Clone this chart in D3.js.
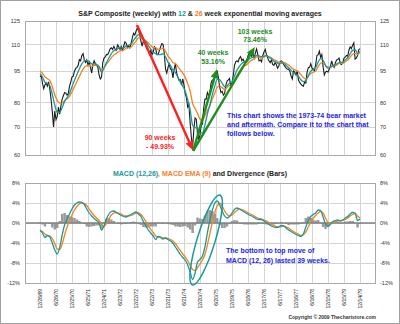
<!DOCTYPE html>
<html>
<head>
<meta charset="utf-8">
<script src="https://cdn.jsdelivr.net/npm/d3@7"></script>
<style>
  html, body { margin: 0; padding: 0; background: #fff; }
  svg { display: block; font-family: "Liberation Sans", Arial, sans-serif; }
</style>
</head>
<body>
<div id="chart"></div>
<script>
// tick labels every 26 weeks, 12/26/69 .. 12/14/79
const dateLabels = ["12/26/69","6/26/70","12/25/70","6/25/71","12/24/71","6/23/72","12/22/72",
  "6/22/73","12/21/73","6/21/74","12/20/74","6/20/75","12/19/75","6/18/76","12/17/76",
  "6/17/77","12/16/77","6/16/78","12/15/78","6/15/79","12/14/79"];

// S&P Composite, one value every 2 weeks from 12/26/69
const price = [
  92.1,92.7,89.0,86.3,88.0,89.0,87.5,89.6,86.0,81.4,76.0,70.0,76.3,72.8,74.0,78.0,75.0,78.5,81.5,83.0,84.5,84.2,83.3,84.0,87.5,89.5,
  92.0,92.4,94.9,96.4,97.0,98.0,101.2,100.5,103.5,104.5,101.0,99.6,101.0,98.0,99.8,97.0,94.0,98.5,100.5,99.0,98.0,97.0,93.0,91.0,92.0,99.5,
  102.0,102.7,104.0,104.0,105.5,107.3,107.9,107.0,108.8,107.2,106.4,109.7,108.5,107.0,108.7,106.0,109.0,111.5,110.7,108.0,109.0,107.9,110.5,114.0,116.9,115.8,
  118.2,119.9,118.9,116.0,112.0,109.0,112.0,111.0,109.0,107.0,106.5,103.5,106.5,104.0,105.5,108.5,107.5,104.0,104.0,106.5,108.5,110.5,110.0,104.5,96.0,94.0,
  97.0,98.9,96.0,95.5,91.5,96.0,99.0,94.0,92.0,90.3,90.7,88.0,91.0,88.0,84.0,82.0,78.0,79.0,71.5,66.0,62.5,69.0,73.5,73.0,67.0,65.5,
  67.0,70.7,71.0,77.5,81.5,81.5,84.5,83.0,84.5,89.0,90.5,90.5,92.5,94.8,95.0,91.5,87.0,84.5,85.0,83.3,84.0,88.0,90.0,90.5,91.2,87.5,
  89.0,92.6,98.0,100.0,100.5,100.0,102.0,102.8,100.5,101.5,100.0,100.2,100.0,103.5,104.5,104.5,103.0,104.2,102.0,105.0,107.3,104.0,100.5,101.0,100.0,103.5,
  105.5,107.0,104.0,102.0,100.5,99.5,101.0,98.5,98.0,99.5,98.5,96.5,97.5,100.0,100.5,100.0,98.5,97.5,96.5,96.0,96.0,95.0,92.5,91.0,95.0,94.5,
  93.0,95.1,90.5,89.3,88.5,87.8,87.5,89.5,89.0,94.5,96.8,97.0,99.0,96.5,96.0,95.0,98.5,103.5,104.0,106.0,102.5,104.0,97.5,93.0,94.5,95.0,
  94.5,96.0,97.5,100.5,98.0,97.0,99.5,101.0,101.3,102.0,99.0,98.5,99.5,102.0,102.5,103.5,103.1,106.5,108.5,107.5,109.5,111.0,101.5,102.0,103.5,106.8,
  107.5
];

// moving averages, one value every 4 weeks
const ema12 = [
  93.7,92.0,89.4,88.8,87.7,83.7,78.9,75.8,75.8,77.8,80.5,82.2,84.2,87.2,90.3,93.3,96.2,98.8,100.6,100.6,
  100.1,98.8,98.9,98.6,97.3,94.4,96.5,99.5,102.1,104.6,106.2,106.8,107.7,107.9,108.0,109.1,109.6,110.2,112.4,114.5,
  116.0,115.5,113.4,111.6,109.2,107.1,105.3,104.5,104.1,104.0,104.5,102.7,99.7,98.0,95.5,94.2,92.0,89.5,87.5,85.0,
  81.3,76.8,70.6,69.7,69.6,67.7,67.7,70.7,75.1,78.9,83.5,87.5,90.8,90.7,88.9,87.2,87.7,89.0,89.7,92.3,
  95.4,97.5,99.1,99.9,100.2,101.5,102.3,102.6,103.5,103.3,102.8,103.1,103.5,102.5,101.6,100.3,99.7,98.8,99.3,99.1,
  98.0,96.8,95.4,94.0,93.2,92.3,90.6,89.7,90.3,92.7,95.0,96.0,96.9,99.9,101.7,100.8,97.9,96.5,96.9,97.9,
  98.3,99.3,99.6,99.7,101.0,102.2,104.5,106.4,106.8,104.7,105.8
];
const ema26 = [
  95.0,93.9,92.1,91.1,90.2,87.2,83.5,80.8,79.7,79.7,80.8,81.6,82.7,84.8,87.2,89.7,92.3,94.9,97.0,97.9,
  98.1,97.4,98.0,98.1,97.3,95.8,97.1,98.7,100.3,102.3,103.8,104.6,105.8,106.3,106.6,107.8,108.0,108.3,110.2,112.0,
  114.0,114.0,113.1,112.2,110.8,109.3,108.1,108.0,107.0,107.1,107.9,105.9,103.1,101.6,99.5,99.0,97.4,95.6,94.0,91.8,
  88.7,85.1,79.6,77.4,75.4,73.0,72.4,74.3,76.6,78.5,81.5,84.1,87.0,87.6,86.8,86.0,86.8,87.9,88.0,89.9,
  92.7,94.9,96.7,97.7,98.4,99.9,100.9,101.5,102.7,102.6,102.0,102.7,103.4,102.9,102.2,101.1,100.6,99.6,99.8,99.7,
  99.0,98.2,97.0,95.9,95.4,94.7,93.2,91.7,91.0,92.3,93.8,94.4,95.0,97.4,99.2,99.6,98.1,97.2,97.1,97.7,
  97.8,98.7,99.2,99.1,100.0,100.9,102.6,104.2,104.7,104.2,105.0
];

// MACD (12,26), its 9-week EMA and the divergence, % , every 4 weeks
const macd = [
  -1.4,-2.0,-2.9,-2.5,-2.8,-4.0,-5.4,-6.2,-4.9,-2.4,-0.4,0.8,1.8,2.8,3.6,4.0,4.2,4.1,3.7,2.8,
  2.0,1.4,0.9,0.5,0.0,-1.4,-0.6,0.8,1.8,2.3,2.4,2.1,1.8,1.5,1.3,1.2,1.5,1.7,2.0,2.2,
  1.8,1.3,0.3,-0.6,-1.4,-2.0,-2.6,-3.3,-2.7,-2.9,-3.2,-3.0,-3.3,-3.6,-4.0,-4.8,-5.5,-6.3,-6.9,-7.4,
  -8.4,-9.8,-11.3,-10.0,-7.8,-7.3,-6.6,-4.8,-2.0,0.5,2.5,4.0,4.4,3.6,2.4,1.4,1.0,1.3,2.0,2.7,
  3.0,2.8,2.5,2.2,1.9,1.6,1.4,1.1,0.8,0.7,0.7,0.4,0.1,-0.3,-0.6,-0.8,-0.9,-0.8,-0.5,-0.6,
  -1.0,-1.4,-1.7,-2.0,-2.3,-2.5,-2.7,-2.2,-0.8,0.5,1.3,1.7,2.0,2.6,2.5,1.2,-0.2,-0.7,-0.2,0.3,
  0.5,0.6,0.4,0.6,1.0,1.3,1.8,2.1,2.0,0.5,0.8
];
const macdSignal = [
  -1.6,-1.7,-2.2,-2.5,-2.6,-3.1,-4.1,-5.2,-5.3,-4.2,-2.4,-0.8,0.5,1.6,2.6,3.3,3.8,4.0,3.9,3.5,
  2.8,2.1,1.5,1.0,0.5,-0.3,-0.7,-0.1,0.8,1.6,2.0,2.1,2.0,1.8,1.5,1.4,1.4,1.5,1.7,2.0,
  2.0,1.7,1.1,0.3,-0.5,-1.3,-1.9,-2.6,-2.8,-2.8,-3.0,-3.0,-3.1,-3.3,-3.6,-4.1,-4.8,-5.5,-6.2,-6.8,
  -7.5,-8.5,-9.3,-9.5,-8.9,-8.2,-7.4,-6.3,-4.4,-2.1,0.1,2.1,3.4,4.0,3.4,2.4,1.7,1.4,1.6,2.1,
  2.5,2.8,2.7,2.5,2.2,1.9,1.7,1.4,1.1,0.9,0.8,0.6,0.4,0.1,-0.3,-0.5,-0.7,-0.8,-0.7,-0.6,
  -0.8,-1.0,-1.4,-1.7,-2.0,-2.2,-2.5,-2.4,-1.8,-0.8,0.3,1.0,1.5,2.0,2.3,2.0,1.0,0.1,-0.2,0.0,
  0.2,0.4,0.5,0.5,0.7,1.0,1.4,1.7,1.9,1.4,1.0
];
const divergence = [
  0.2,-0.3,-0.7,0.0,-0.2,-0.9,-1.3,-1.0,0.4,1.8,2.0,1.6,1.3,1.2,1.0,0.7,0.4,0.1,-0.2,-0.7,
  -0.8,-0.7,-0.6,-0.5,-0.5,-1.1,0.1,0.9,1.0,0.7,0.4,0.0,-0.2,-0.3,-0.2,-0.2,0.1,0.2,0.3,0.2,
  -0.2,-0.4,-0.8,-0.9,-0.9,-0.7,-0.7,-0.7,0.1,-0.1,-0.2,0.0,-0.2,-0.3,-0.4,-0.7,-0.7,-0.8,-0.7,-0.6,
  -0.9,-1.3,-2.0,-0.5,1.1,0.9,0.8,1.5,2.4,2.6,2.4,1.9,1.0,-0.4,-1.0,-1.0,-0.7,-0.1,0.4,0.6,
  0.5,0.0,-0.2,-0.3,-0.3,-0.3,-0.3,-0.3,-0.3,-0.2,-0.1,-0.2,-0.3,-0.4,-0.3,-0.3,-0.2,0.0,0.2,0.0,
  -0.2,-0.4,-0.3,-0.3,-0.3,-0.3,-0.2,0.2,1.0,1.3,1.0,0.7,0.5,0.6,0.2,-0.8,-1.2,-0.8,0.0,0.3,
  0.3,0.2,-0.1,0.1,0.3,0.3,0.4,0.4,0.1,-0.9,-0.2
];

const priceTicks = [60, 70, 80, 95, 110, 125];
const macdTicks = [-12, -8, -4, 0, 4, 8];

// annotations: [week, value] pairs
const moveArrows = [
  { from: [157.6, 122.3], to: [248.5, 61.6], color: "#ff2020" },
  { from: [249, 61.4], to: [287.6, 96.0], color: "#1e8c1e" },
  { from: [249, 61.4], to: [349, 108.4], color: "#1e8c1e" }
];

const teal = "#17999a";
const orange = "#f7801f";

const W = 400, H = 324;
const plotL = 25, plotR = 375;
const top1 = 21, bot1 = 155;
const top2 = 183, bot2 = 283;

const x = d3.scaleLinear().domain([0, 520]).range([40, 360]);
const yP = d3.scaleLog().domain([60, 125]).range([bot1, top1]);
const yM = d3.scaleLinear().domain([-12, 8]).range([bot2, top2]);
const labelWeeks = dateLabels.map((d, i) => i * 26);

const svg = d3.select("#chart").append("svg")
  .attr("width", W)
  .attr("height", H);

svg.append("rect")
  .attr("x", 0.5).attr("y", 0.5)
  .attr("width", W - 1).attr("height", H - 1)
  .attr("fill", "#fff")
  .attr("stroke", "#a0a0a0");

// grid + frame for a panel
function panelGrid(y, ticks, t, b) {
  const g = svg.append("g");
  g.selectAll("line.v").data(labelWeeks).join("line")
    .attr("class", "v")
    .attr("x1", d => x(d) + 0.5).attr("x2", d => x(d) + 0.5)
    .attr("y1", t).attr("y2", b)
    .attr("stroke", "#d4d4d4");
  g.selectAll("line.h").data(ticks).join("line")
    .attr("class", "h")
    .attr("x1", plotL).attr("x2", plotR)
    .attr("y1", d => Math.round(y(d)) + 0.5).attr("y2", d => Math.round(y(d)) + 0.5)
    .attr("stroke", "#d4d4d4");
}

function panelFrame(t, b) {
  svg.append("rect")
    .attr("x", plotL + 0.5).attr("y", t + 0.5)
    .attr("width", plotR - plotL).attr("height", b - t)
    .attr("fill", "none")
    .attr("stroke", "#a8a8a8");
}

function sideAxes(y, ticks, fmt) {
  const left = svg.append("g")
    .attr("transform", `translate(${plotL},0)`)
    .call(d3.axisLeft(y).tickValues(ticks).tickSize(0).tickPadding(5).tickFormat(fmt));
  const right = svg.append("g")
    .attr("transform", `translate(${plotR},0)`)
    .call(d3.axisRight(y).tickValues(ticks).tickSize(0).tickPadding(5).tickFormat(fmt));
  [left, right].forEach(a => {
    a.select(".domain").remove();
    a.selectAll("text")
      .attr("font-family", "Liberation Sans, Arial, sans-serif")
      .attr("font-size", "5.5px")
      .attr("fill", "#333");
  });
}

// ---------- upper panel ----------
panelGrid(yP, priceTicks, top1, bot1);

svg.append("path")
  .datum(price)
  .attr("fill", "none")
  .attr("stroke", "#1c1c1c")
  .attr("stroke-width", 1.1)
  .attr("d", d3.line().x((d, i) => x(i * 2)).y(d => yP(d)));

svg.append("path")
  .datum(ema26)
  .attr("fill", "none")
  .attr("stroke", orange)
  .attr("stroke-width", 1.3)
  .attr("d", d3.line().curve(d3.curveMonotoneX).x((d, i) => x(i * 4)).y(d => yP(d)));

svg.append("path")
  .datum(ema12)
  .attr("fill", "none")
  .attr("stroke", teal)
  .attr("stroke-width", 1.3)
  .attr("d", d3.line().curve(d3.curveMonotoneX).x((d, i) => x(i * 4)).y(d => yP(d)));

panelFrame(top1, bot1);
sideAxes(yP, priceTicks, d => d);

// ---------- lower panel ----------
panelGrid(yM, macdTicks, top2, bot2);

const bw = x(4) - x(0);
svg.append("g").selectAll("rect").data(divergence).join("rect")
  .attr("x", (d, i) => x(i * 4) - bw / 2)
  .attr("y", d => Math.min(yM(d), yM(0)))
  .attr("width", bw)
  .attr("height", d => Math.abs(yM(d) - yM(0)))
  .attr("fill", "#9a9a9a");

svg.append("line")
  .attr("x1", plotL).attr("x2", plotR)
  .attr("y1", yM(0)).attr("y2", yM(0))
  .attr("stroke", "#808080")
  .attr("stroke-width", 1.5);

svg.append("path")
  .datum(macdSignal)
  .attr("fill", "none")
  .attr("stroke", orange)
  .attr("stroke-width", 1.3)
  .attr("d", d3.line().curve(d3.curveMonotoneX).x((d, i) => x(i * 4)).y(d => yM(d)));

svg.append("path")
  .datum(macd)
  .attr("fill", "none")
  .attr("stroke", teal)
  .attr("stroke-width", 1.3)
  .attr("d", d3.line().curve(d3.curveMonotoneX).x((d, i) => x(i * 4)).y(d => yM(d)));

panelFrame(top2, bot2);
sideAxes(yM, macdTicks, d => d + "%");

// date labels
svg.append("g").selectAll("text").data(dateLabels).join("text")
  .attr("transform", (d, i) => `translate(${x(labelWeeks[i]) + 0.5},289) rotate(-90)`)
  .attr("dy", "0.35em")
  .attr("text-anchor", "end")
  .attr("font-size", "5px")
  .attr("fill", "#222")
  .text(d => d);

// ---------- titles ----------
const t1 = svg.append("text")
  .attr("x", 200).attr("y", 16)
  .attr("text-anchor", "middle")
  .attr("font-size", "7px")
  .attr("font-weight", "bold")
  .attr("fill", "#222");
t1.append("tspan").text("S&P Composite (weekly) with ");
t1.append("tspan").attr("fill", teal).text("12");
t1.append("tspan").text(" & ");
t1.append("tspan").attr("fill", orange).text("26");
t1.append("tspan").text(" week exponential moving averages");

const t2 = svg.append("text")
  .attr("x", 200).attr("y", 176)
  .attr("text-anchor", "middle")
  .attr("font-size", "7px")
  .attr("font-weight", "bold")
  .attr("fill", "#222");
t2.append("tspan").attr("fill", teal).text("MACD (12,26)");
t2.append("tspan").attr("fill", orange).text(", MACD EMA (9)");
t2.append("tspan").text(" and Divergence (Bars)");

// ---------- annotations ----------
function arrow(a) {
  const x0 = x(a.from[0]), y0 = yP(a.from[1]);
  const x1 = x(a.to[0]), y1 = yP(a.to[1]);
  const ang = Math.atan2(y1 - y0, x1 - x0);
  const hl = 9, hw = 4;
  const bx = x1 - hl * Math.cos(ang), by = y1 - hl * Math.sin(ang);
  svg.append("line")
    .attr("x1", x0).attr("y1", y0).attr("x2", bx).attr("y2", by)
    .attr("stroke", a.color)
    .attr("stroke-width", 2.4);
  const px = -Math.sin(ang) * hw, py = Math.cos(ang) * hw;
  svg.append("path")
    .attr("d", `M${x1},${y1}L${bx + px},${by + py}L${bx - px},${by - py}Z`)
    .attr("fill", a.color);
}
moveArrows.forEach(arrow);

function note(lines, x0, y0, color, anchor, lh) {
  const t = svg.append("text")
    .attr("font-size", "7px")
    .attr("font-weight", "bold")
    .attr("fill", color)
    .attr("text-anchor", anchor);
  lines.forEach((s, i) => {
    t.append("tspan").attr("x", x0).attr("y", y0 + i * lh).text(s);
  });
}

note(["90 weeks", "- 49.93%"], 160, 139.5, "#ff2020", "middle", 9);
note(["40 weeks", "53.16%"], 213, 54.5, "#1e8c1e", "middle", 9);
note(["103 weeks", "73.46%"], 255, 33.5, "#1e8c1e", "middle", 8.5);
note(["This chart shows the 1973-74 bear market",
      "and aftermath.  Compare it to the chart that",
      "follows below."], 227, 117.5, "#2424e6", "start", 9);
note(["The bottom to top move of",
      "MACD (12, 26) lasted 39 weeks."], 226, 252.5, "#2424e6", "start", 10);

// ellipse round the MACD bottom-to-top move
svg.append("ellipse")
  .attr("transform", `translate(${x(270)},${yM(-3.4)}) rotate(-73)`)
  .attr("rx", 47)
  .attr("ry", 9)
  .attr("fill", "none")
  .attr("stroke", teal)
  .attr("stroke-width", 1.5);

svg.append("text")
  .attr("x", 376).attr("y", 319)
  .attr("text-anchor", "end")
  .attr("font-size", "5px")
  .attr("font-weight", "bold")
  .attr("fill", "#333")
  .text("Copyright \u00a9 2009 Thechartstore.com");
</script>
</body>
</html>
